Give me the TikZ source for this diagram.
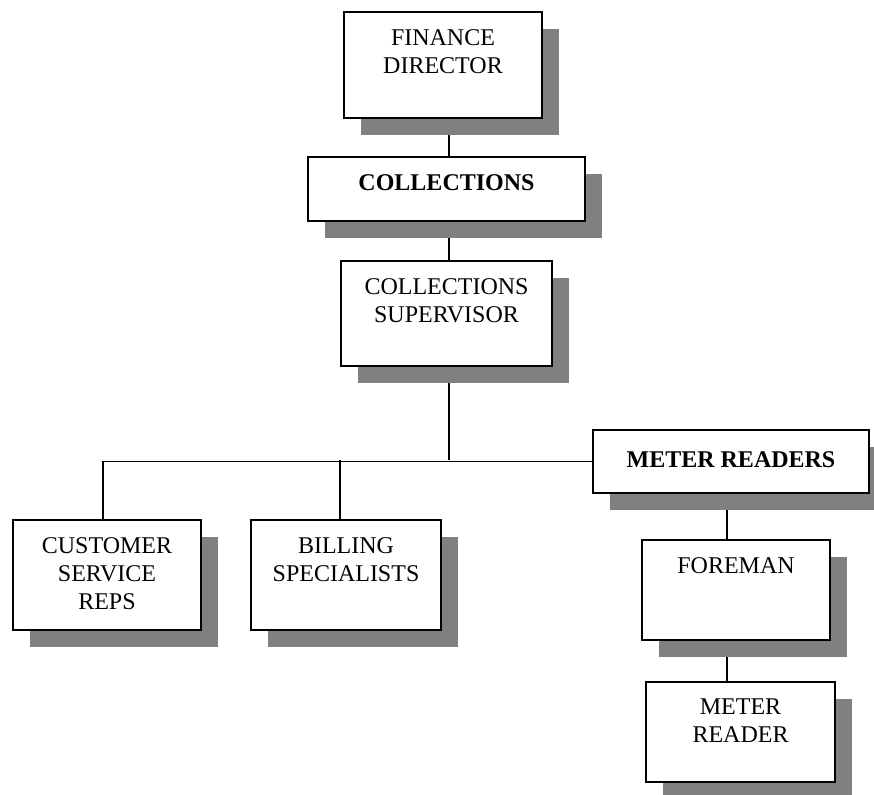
\documentclass[tikz,border=0pt]{standalone}
\usepackage{fontspec}
\setmainfont{Liberation Serif}
\usetikzlibrary{positioning,shadows,backgrounds}
\tikzset{
    chartbox/.style={draw, line width=1.5pt, fill=white, inner sep=0pt, drop shadow={shadow xshift=12.5pt, shadow yshift=-12.5pt, fill=black!50, opacity=1}},
    charttext/.style={align=center, inner sep=0pt, font=\fontsize{18}{21}\selectfont},
    charthead/.style={charttext, font=\fontsize{18}{21}\selectfont\bfseries},
    chartline/.style={draw, line width=1.2pt}
}

\begin{document}
\begin{tikzpicture}[x=0.75pt, y=-0.75pt]
    \useasboundingbox (0,0) rectangle (874,795);

    \node[chartbox, minimum width=148.5pt, minimum height=79.5pt] (fd) at (443,65) {};
    \node[chartbox, minimum width=207.75pt, minimum height=48pt] (coll) at (446.5,189) {};
    \node[chartbox, minimum width=158.25pt, minimum height=78.75pt] (sup) at (446.5,313.5) {};
    \node[chartbox, minimum width=207pt, minimum height=47.25pt] (mrs) at (731,461.5) {};
    \node[chartbox, minimum width=141pt, minimum height=82.5pt] (csr) at (107,575) {};
    \node[chartbox, minimum width=142.5pt, minimum height=82.5pt] (bill) at (346,575) {};
    \node[chartbox, minimum width=141pt, minimum height=75pt] (fore) at (736,590) {};
    \node[chartbox, minimum width=141.75pt, minimum height=75pt] (mr) at (740.5,732) {};

    \node[charttext, below=13.5pt of fd.north] (fdtext) {FINANCE\\DIRECTOR};
    \node[charthead, below=13.5pt of coll.north] (colltext) {COLLECTIONS};
    \node[charttext, below=13.5pt of sup.north] (suptext) {COLLECTIONS\\SUPERVISOR};
    \node[charthead, below=17pt of mrs.north] (mrstext) {METER READERS};
    \node[charttext, below=13.5pt of csr.north] (csrtext) {CUSTOMER\\SERVICE\\REPS};
    \node[charttext, below=13.5pt of bill.north] (billtext) {BILLING\\SPECIALISTS};
    \node[charttext, below=13.5pt of fore.north] (foretext) {FOREMAN};
    \node[charttext, below=13.5pt of mr.north] (mrtext) {METER\\READER};

    \coordinate (hub) at (449,460);
    \coordinate (csrdrop) at (103,460);
    \coordinate (billdrop) at (340,460);
    \coordinate (crew) at (727,500);

    \begin{scope}[on background layer]
        \draw[chartline] (fd.south -| hub) -- (coll.north -| hub);
        \draw[chartline] (coll.south -| hub) -- (sup.north -| hub);
        \draw[chartline] (sup.south -| hub) -- (hub);
        \draw[chartline] (mrs.west) -| (csr.north -| csrdrop);
        \draw[chartline] (billdrop) -- (bill.north -| billdrop);
        \draw[chartline] (mrs.south -| crew) -- (fore.north -| crew);
        \draw[chartline] (fore.south -| crew) -- (mr.north -| crew);
    \end{scope}
\end{tikzpicture}
\end{document}
